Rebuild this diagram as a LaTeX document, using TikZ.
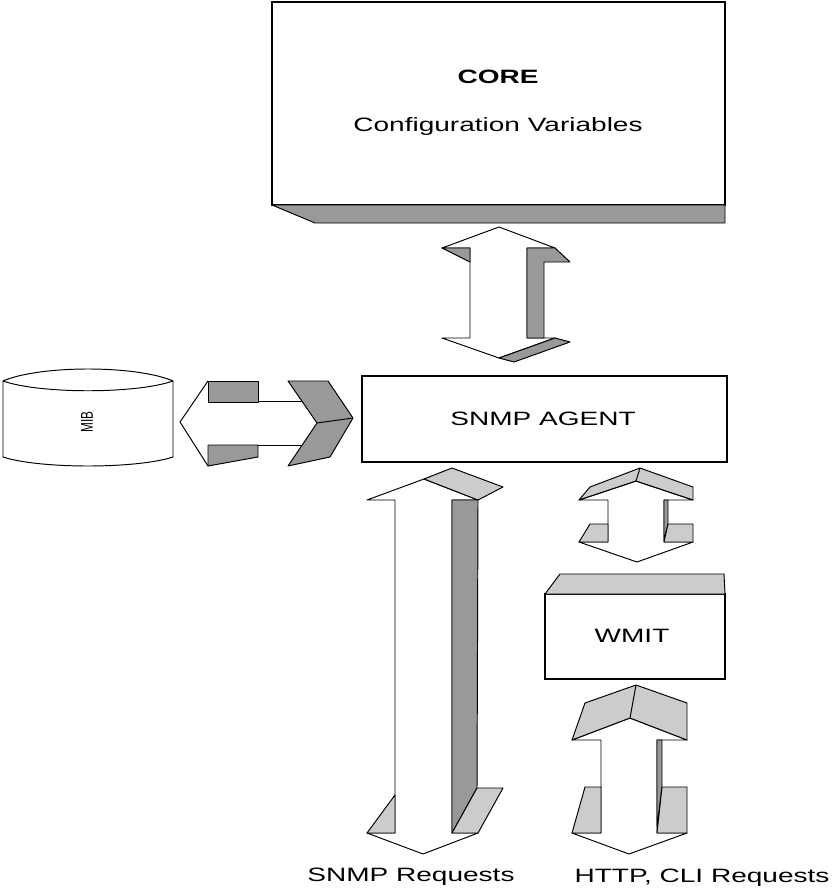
\documentclass[tikz,border=0pt]{standalone}
\usepackage{fontspec}
\setmainfont{Liberation Sans}
\usepackage{graphicx}
\newcommand\lblfont{\fontsize{11}{13}\selectfont}
\newcommand\wide[1]{\scalebox{1.45}[1]{#1}}
\tikzset{
  edge/.style={draw=black, line width=0.55pt, line join=round},
  frontface/.style={edge, fill=white},
  darkface/.style={edge, fill=black!40},
  lightface/.style={edge, fill=black!20},
  box/.style={draw=black, line width=0.65pt, fill=white, inner sep=0pt},
  lbl/.style={inner sep=0pt, font=\lblfont, anchor=base},
}
\begin{document}
\begin{tikzpicture}[x=0.02cm, y=-0.02cm]
\useasboundingbox (0,0) rectangle (836,895);

% ---- CORE block with its lower shelf
\node[box, minimum width=9.06cm, minimum height=4.06cm] (core) at (498.5,103.5) {};
\path[darkface] (272,205) -- (725,205) -- (725,223) -- (315,223) -- cycle;
\node[lbl] (coretitle) at (498,84) {\wide{\bfseries CORE}};
\node[lbl] (corevars) at (498,132) {\wide{Configuration Variables}};

% ---- CORE <-> SNMP AGENT double arrow
\path[frontface] (442,248) -- (499,227) -- (555,248) -- (527,248) -- (527,338)
  -- (555,338) -- (499,358) -- (442,338) -- (470,338) -- (470,248) -- cycle;
\path[darkface] (442,248) -- (470,248) -- (470,262) -- cycle;
\path[darkface] (527,248) -- (555,248) -- (570,262) -- (544,262) -- (544,338) -- (527,338) -- cycle;
\path[darkface] (499,358) -- (555,338) -- (570,342) -- (514,362) -- cycle;

% ---- SNMP AGENT block
\node[box, minimum width=7.3cm, minimum height=1.72cm] (agent) at (544.5,419) {};
\node[lbl] (agenttext) at (543,425) {\wide{SNMP AGENT}};

% ---- MIB store
\path[frontface] (3,381) .. controls (40,365) and (136,365) .. (173,381) -- (173,457)
  .. controls (136,469) and (40,469) .. (3,457) -- cycle;
\path[edge] (3,381) .. controls (40,394) and (136,394) .. (173,381);
\node[inner sep=0pt, rotate=90] (mib) at (87,422)
  {\scalebox{1}[1.45]{\fontsize{6.7}{8}\selectfont MIB}};

% ---- MIB <-> SNMP AGENT double arrow
\fill[white] (180,422) -- (208,381) -- (208,401) -- (302,401) -- (317,423)
  -- (302,445) -- (208,445) -- (208,466) -- cycle;
\path[edge] (208,381) -- (180,422) -- (208,466);
\path[edge] (258,401) -- (302,401);
\path[edge] (258,445) -- (302,445);
\path[darkface] (208,381) rectangle (258,402);
\path[darkface] (208,445) -- (258,445) -- (258,457) -- (208,466) -- cycle;
\path[darkface] (288,381) -- (328,381) -- (353,418) -- (330,457) -- (288,466) -- (317,423) -- cycle;
\path[edge] (317,423) -- (353,418);

% ---- SNMP requests arrow
\path[frontface] (367,500) -- (424,479) -- (478,500) -- (452,500) -- (452,833)
  -- (478,833) -- (423,854) -- (367,833) -- (395,833) -- (395,500) -- cycle;
\path[lightface] (424,479) -- (452,468) -- (503,487) -- (478,500) -- cycle;
\path[darkface] (452,500) -- (478,500) -- (477,788) -- (452,833) -- cycle;
\path[lightface] (452,833) -- (477,788) -- (503,788) -- (478,833) -- cycle;
\path[lightface] (367,833) -- (395,795) -- (395,833) -- cycle;

% ---- SNMP AGENT <-> WMIT double arrow
\path[frontface] (579,500) -- (636,481) -- (693,500) -- (664,500) -- (664,542)
  -- (693,542) -- (637,562) -- (579,542) -- (608,542) -- (608,500) -- cycle;
\path[lightface] (579,500) -- (590,487) -- (640,468) -- (693,487) -- (693,500) -- (636,481) -- cycle;
\path[edge] (636,481) -- (640,468);
\path[darkface] (664,500) -- (668,500) -- (668,524) -- (664,540) -- cycle;
\path[lightface] (579,542) -- (590,524) -- (608,524) -- (608,542) -- cycle;
\path[lightface] (664,542) -- (668,524) -- (693,524) -- (693,542) -- cycle;

% ---- WMIT block with its top face
\node[box, minimum width=3.6cm, minimum height=1.7cm] (wmit) at (635,636.5) {};
\path[lightface] (545,594) -- (560,574) -- (724,574) -- (725,594) -- cycle;
\node[lbl] (wmittext) at (632,642) {\wide{WMIT}};

% ---- HTTP / CLI requests arrow
\path[frontface] (572,740) -- (630,718) -- (687,740) -- (657,740) -- (657,833)
  -- (687,833) -- (629,854) -- (572,833) -- (601,833) -- (601,740) -- cycle;
\path[lightface] (572,740) -- (585,703) -- (636,685) -- (687,703) -- (687,740) -- (630,718) -- cycle;
\path[edge] (630,718) -- (636,685);
\path[darkface] (657,740) -- (662,740) -- (662,787) -- (657,827) -- cycle;
\path[lightface] (572,833) -- (585,787) -- (601,787) -- (601,833) -- cycle;
\path[lightface] (657,833) -- (662,787) -- (687,787) -- (687,833) -- cycle;

% ---- request labels
\node[lbl] (snmpreq) at (411,881) {\wide{SNMP Requests}};
\node[lbl] (httpreq) at (702,882) {\wide{HTTP, CLI Requests}};
\end{tikzpicture}
\end{document}
